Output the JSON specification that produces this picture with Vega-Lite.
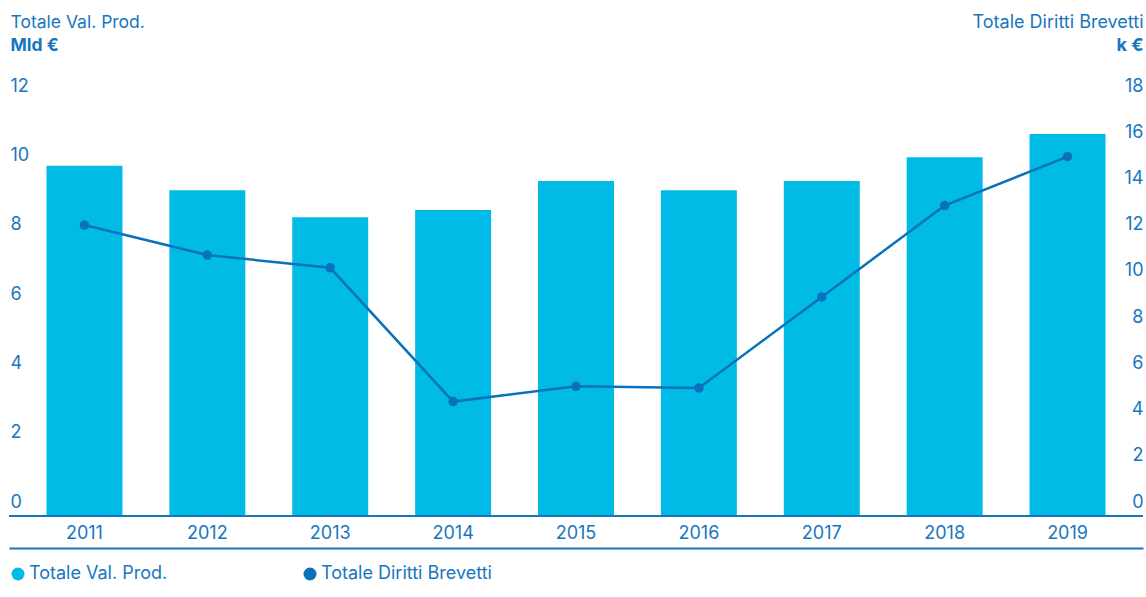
{
  "$schema": "https://vega.github.io/schema/vega-lite/v6.json",
  "width": 1134,
  "height": 416,
  "autosize": {"type": "none"},
  "padding": {"left": 9, "top": 100, "right": 3, "bottom": 81},
  "background": "white",
  "config": {
    "view": {"stroke": null},
    "font": "Inter",
    "axis": {"labelFont": "Inter", "titleFont": "Inter", "labelColor": "#1776c0", "titleColor": "#1776c0", "grid": false, "ticks": false},
    "legend": {"labelFont": "Inter", "labelColor": "#1776c0"}
  },
  "data": {
    "values": [
      {"year": "2011", "prod": 10.10, "brev": 12.59},
      {"year": "2012", "prod": 9.40, "brev": 11.29},
      {"year": "2013", "prod": 8.62, "brev": 10.74},
      {"year": "2014", "prod": 8.83, "brev": 4.95},
      {"year": "2015", "prod": 9.66, "brev": 5.61},
      {"year": "2016", "prod": 9.40, "brev": 5.54},
      {"year": "2017", "prod": 9.66, "brev": 9.48},
      {"year": "2018", "prod": 10.35, "brev": 13.43},
      {"year": "2019", "prod": 11.02, "brev": 15.55}
    ]
  },
  "layer": [
    {
      "mark": {"type": "bar"},
      "encoding": {
        "x": {
          "field": "year", "type": "ordinal",
          "scale": {"paddingInner": 0.382, "paddingOuter": 0.305},
          "axis": {"orient": "bottom", "offset": 32, "labelAngle": 0, "labelPadding": -15, "labelBaseline": "middle", "domainColor": "#1776c0", "domainWidth": 2, "labelFontSize": 18, "title": null}
        },
        "y": {
          "field": "prod", "type": "quantitative",
          "scale": {"domain": [0, 12]},
          "axis": {"orient": "left", "values": [0, 2, 4, 6, 8, 10, 12], "domain": false, "labelAlign": "left", "labelPadding": -1, "labelOffset": -14, "labelBaseline": "middle", "labelFontSize": 18,
            "title": "Totale Val. Prod.", "titleAngle": 0, "titleAlign": "left", "titleBaseline": "alphabetic", "titleX": 1, "titleY": -73, "titleFontWeight": "normal", "titleFontSize": 17.5}
        },
        "color": {
          "datum": "Totale Val. Prod.", "type": "nominal",
          "scale": {"domain": ["Totale Val. Prod.", "Totale Diritti Brevetti"], "range": ["#00bbe6", "#0a72bb"]},
          "legend": {"orient": "none", "legendX": 0, "legendY": 465, "direction": "horizontal", "title": null, "symbolType": "circle", "symbolSize": 169, "symbolStrokeWidth": 0, "labelFontSize": 18, "labelOffset": 2, "labelLimit": 400, "columnPadding": 133, "padding": 0}
        }
      }
    },
    {
      "mark": {"type": "rule", "color": "#1776c0", "strokeWidth": 2},
      "encoding": {
        "y": {"datum": 0, "type": "quantitative", "scale": {"domain": [0, 12]},
          "axis": {"orient": "left", "labels": false, "domain": false, "title": "Mld €", "titleAngle": 0, "titleAlign": "left", "titleBaseline": "alphabetic", "titleX": 1, "titleY": -50, "titleFontWeight": "bold", "titleFontSize": 17.5}}
      }
    },
    {
      "mark": {"type": "line", "color": "#0a72bb", "strokeWidth": 2.5},
      "encoding": {
        "x": {"field": "year", "type": "ordinal"},
        "y": {"field": "brev", "type": "quantitative", "scale": {"domain": [0, 18]},
          "axis": {"orient": "right", "values": [0, 2, 4, 6, 8, 10, 12, 14, 16, 18], "domain": false, "labelAlign": "right", "labelPadding": 0, "labelOffset": -14, "labelBaseline": "middle", "labelFontSize": 18,
            "title": "Totale Diritti Brevetti", "titleAngle": 0, "titleAlign": "right", "titleBaseline": "alphabetic", "titleX": 0, "titleY": -73, "titleFontWeight": "normal", "titleFontSize": 18}}
      }
    },
    {
      "mark": {"type": "point", "filled": true, "size": 90, "opacity": 1},
      "encoding": {
        "x": {"field": "year", "type": "ordinal"},
        "y": {"field": "brev", "type": "quantitative", "scale": {"domain": [0, 18]},
          "axis": {"orient": "right", "labels": false, "domain": false, "title": "k €", "titleAngle": 0, "titleAlign": "right", "titleBaseline": "alphabetic", "titleX": 0, "titleY": -50, "titleFontWeight": "bold", "titleFontSize": 18}},
        "color": {"datum": "Totale Diritti Brevetti", "type": "nominal"}
      }
    }
  ],
  "resolve": {"scale": {"y": "independent"}, "axis": {"y": "independent"}}
}
